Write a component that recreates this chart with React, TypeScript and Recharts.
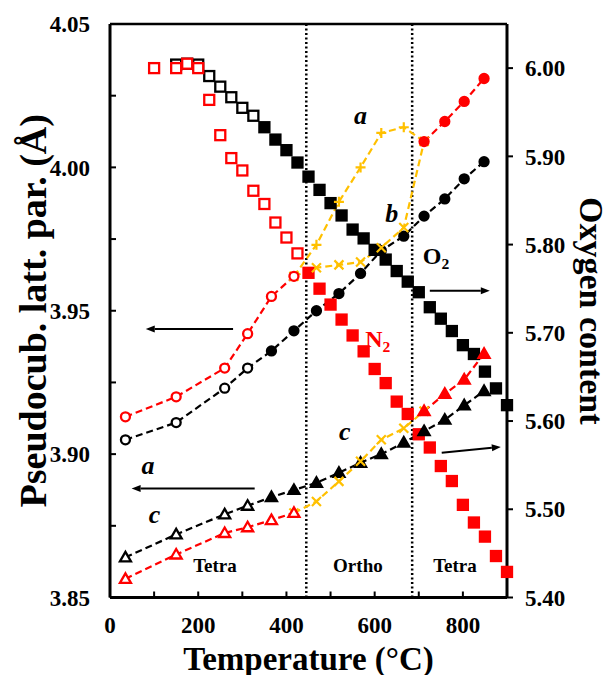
import React from "react";
import { ComposedChart, Line, XAxis, YAxis, ReferenceLine, ReferenceDot } from "recharts";

const FONT = "'Liberation Serif', 'Times New Roman', serif";
const RED = "#ff0000";
const GOLD = "#ffc000";

const xTicks = [0, 100, 200, 300, 400, 500, 600, 700, 800, 900];
const leftTicks = [3.85, 3.875, 3.9, 3.925, 3.95, 3.975, 4.0, 4.025, 4.05];
const rightTicks = [5.4, 5.5, 5.6, 5.7, 5.8, 5.9, 6.0];
const phaseBounds = [445, 685];

// oxygen content (right axis)
const o2SqTemps = [150, 175, 200, 225, 250, 275, 300, 325, 350, 375, 400, 425, 450, 475, 500, 525, 550, 575, 600, 625, 650, 675, 700, 725, 750, 775, 800, 825, 850, 875, 900];
const o2Content = [6.004, 6.005, 6.004, 5.991, 5.979, 5.967, 5.955, 5.946, 5.933, 5.919, 5.907, 5.893, 5.877, 5.862, 5.847, 5.833, 5.817, 5.807, 5.794, 5.783, 5.77, 5.758, 5.746, 5.729, 5.716, 5.702, 5.686, 5.676, 5.656, 5.637, 5.618];
const n2SqTemps = [100, 150, 175, 200, 225, 250, 275, 300, 325, 350, 375, 400, 425, 450, 475, 500, 525, 550, 575, 600, 625, 650, 675, 700, 725, 750, 775, 800, 825, 850, 875, 900];
const n2Content = [6.0, 6.0, 6.005, 6.0, 5.964, 5.924, 5.898, 5.884, 5.861, 5.846, 5.825, 5.808, 5.79, 5.768, 5.75, 5.732, 5.715, 5.697, 5.679, 5.659, 5.643, 5.622, 5.608, 5.585, 5.57, 5.549, 5.532, 5.505, 5.485, 5.469, 5.447, 5.429];

// lattice parameters (left axis)
const allTemps = [35, 150, 260, 312, 366, 417, 468, 519, 568, 615, 666, 712, 759, 803, 848];
const lowTemps = [35, 150, 260, 312, 366, 417];
const orthoTemps = [417, 468, 519, 568, 615, 666, 712];
const highTemps = [712, 759, 803, 848];

const o2A = [3.905, 3.911, 3.923, 3.93, 3.936, 3.943, 3.95, 3.956, 3.963, 3.971, 3.976, 3.983, 3.989, 3.996, 4.002];
const o2C = [3.864, 3.872, 3.879, 3.882, 3.885, 3.8875, 3.89, 3.8935, 3.897, 3.9, 3.904, 3.908, 3.912, 3.917, 3.922];
const n2ALow = [3.913, 3.92, 3.93, 3.942, 3.955, 3.962];
const n2AOrtho = [3.962, 3.973, 3.988, 4.0, 4.012, 4.014, 4.009];
const n2BOrtho = [3.962, 3.965, 3.966, 3.967, 3.972, 3.979, 4.009];
const n2AHigh = [4.009, 4.016, 4.023, 4.031];
const n2CLow = [3.8565, 3.865, 3.8725, 3.8745, 3.877, 3.8795];
const n2COrtho = [3.8795, 3.8835, 3.8905, 3.8975, 3.905, 3.909, 3.915];
const n2CHigh = [3.915, 3.921, 3.926, 3.935];

const pts = (ts: number[], vs: number[]) => ts.map((t, i) => ({ t, v: vs[i] }));

type Kind = "square" | "circle" | "triangle" | "plus" | "cross";

const marker = (kind: Kind, color: string, openCount = 0) => (p: any) => {
  const { cx, cy, index } = p;
  if (cx == null || cy == null) return <g key={index} />;
  const open = index < openCount;
  const fill = open ? "#fff" : color;
  const sw = 2.3;
  if (kind === "square")
    return <rect key={index} x={cx - 5} y={cy - 5} width={10} height={10} fill={fill} stroke={color} strokeWidth={sw} />;
  if (kind === "circle")
    return <circle key={index} cx={cx} cy={cy} r={4.5} fill={fill} stroke={color} strokeWidth={sw} />;
  if (kind === "triangle")
    return <polygon key={index} points={`${cx},${cy - 5.5} ${cx + 5.5},${cy + 4} ${cx - 5.5},${cy + 4}`} fill={fill} stroke={color} strokeWidth={sw} />;
  if (kind === "plus")
    return <path key={index} d={`M${cx - 5},${cy}H${cx + 5}M${cx},${cy - 5}V${cy + 5}`} stroke={color} strokeWidth={2.2} />;
  return <path key={index} d={`M${cx - 4.5},${cy - 4.5}L${cx + 4.5},${cy + 4.5}M${cx - 4.5},${cy + 4.5}L${cx + 4.5},${cy - 4.5}`} stroke={color} strokeWidth={2.2} />;
};

const Arrow = (p: any) => {
  const { x1, y1, x2, y2 } = p;
  const ang = Math.atan2(y2 - y1, x2 - x1);
  const len = 9;
  const w = 3.5;
  const bx = x2 - len * Math.cos(ang);
  const by = y2 - len * Math.sin(ang);
  const nx = -Math.sin(ang) * w;
  const ny = Math.cos(ang) * w;
  return (
    <g>
      <line x1={x1} y1={y1} x2={bx} y2={by} stroke="#000" strokeWidth={2} />
      <polygon points={`${x2},${y2} ${bx + nx},${by + ny} ${bx - nx},${by - ny}`} fill="#000" />
    </g>
  );
};

const txt = (label: string, opts: { size?: number; italic?: boolean; color?: string; sub?: string } = {}) => (p: any) => (
  <text
    x={p.cx}
    y={p.cy}
    textAnchor="middle"
    dominantBaseline="central"
    fontFamily={FONT}
    fontWeight="bold"
    fontStyle={opts.italic ? "italic" : "normal"}
    fontSize={opts.size ?? 26}
    fill={opts.color ?? "#000"}
  >
    {label}
    {opts.sub && (
      <tspan dy={7} fontSize={(opts.size ?? 26) * 0.65}>
        {opts.sub}
      </tspan>
    )}
  </text>
);

const LeftTitle = ({ viewBox }: any) => (
  <text
    transform={`translate(${viewBox.x + 33},${viewBox.y + viewBox.height / 2}) rotate(-90)`}
    textAnchor="middle"
    dominantBaseline="central"
    fontFamily={FONT}
    fontWeight="bold"
    fontSize={38}
  >
    Pseudocub. latt. par. (Å)
  </text>
);

const RightTitle = ({ viewBox }: any) => (
  <text
    transform={`translate(${viewBox.x + 84},${viewBox.y + viewBox.height / 2}) rotate(90)`}
    textAnchor="middle"
    dominantBaseline="central"
    fontFamily={FONT}
    fontWeight="bold"
    fontSize={34}
  >
    Oxygen content
  </text>
);

const BottomTitle = ({ viewBox }: any) => (
  <text
    x={viewBox.x + viewBox.width / 2}
    y={viewBox.y + 72}
    textAnchor="middle"
    fontFamily={FONT}
    fontWeight="bold"
    fontSize={33}
  >
    Temperature (°C)
  </text>
);

const tickStyle = { fill: "#000", fontSize: 23, fontWeight: "bold", fontFamily: FONT };
const dash = "7 4";

export default function App() {
  return (
    <div style={{ position: "absolute", left: 0, top: 0, width: 608, height: 675, background: "#fff" }}>
      <ComposedChart width={608} height={675} margin={{ top: 24, right: 0, bottom: 0, left: 0 }}>
        <XAxis
          type="number"
          dataKey="t"
          domain={[0, 900]}
          ticks={xTicks}
          interval={0}
          height={77.5}
          tickFormatter={(v: number) => (v % 200 === 0 && v < 900 ? String(v) : "")}
          axisLine={{ stroke: "#000", strokeWidth: 3 }}
          tickLine={{ stroke: "#000", strokeWidth: 2 }}
          tickSize={-6}
          tickMargin={25}
          tick={tickStyle}
          label={<BottomTitle />}
        />
        <YAxis
          yAxisId="L"
          orientation="left"
          type="number"
          domain={[3.85, 4.05]}
          ticks={leftTicks}
          interval={0}
          width={110}
          tickFormatter={(v: number, i: number) => (i % 2 === 0 ? v.toFixed(2) : "")}
          axisLine={{ stroke: "#000", strokeWidth: 3 }}
          tickLine={{ stroke: "#000", strokeWidth: 2 }}
          tickSize={-6}
          tickMargin={26}
          tick={tickStyle}
          label={<LeftTitle />}
        />
        <YAxis
          yAxisId="R"
          orientation="right"
          type="number"
          domain={[5.4, 6.05]}
          ticks={rightTicks}
          interval={0}
          width={101}
          tickFormatter={(v: number) => v.toFixed(2)}
          axisLine={{ stroke: "#000", strokeWidth: 3 }}
          tickLine={{ stroke: "#000", strokeWidth: 2 }}
          tickSize={6}
          tickMargin={12}
          tick={tickStyle}
          label={<RightTitle />}
        />

        <ReferenceLine yAxisId="L" y={4.05} stroke="#000" strokeWidth={2.5} />
        {phaseBounds.map((x) => (
          <ReferenceLine key={x} yAxisId="L" x={x} stroke="#000" strokeWidth={2.5} strokeDasharray="2 2.5" />
        ))}

        {/* oxygen content */}
        <Line yAxisId="R" data={pts(o2SqTemps, o2Content)} dataKey="v" stroke="none" dot={marker("square", "#000", 8)} isAnimationActive={false} legendType="none" />
        <Line yAxisId="R" data={pts(n2SqTemps, n2Content)} dataKey="v" stroke="none" dot={marker("square", RED, 13)} isAnimationActive={false} legendType="none" />

        {/* a and b */}
        <Line yAxisId="L" data={pts(allTemps, o2A)} dataKey="v" stroke="#000" strokeWidth={2.2} strokeDasharray={dash} dot={marker("circle", "#000", 4)} isAnimationActive={false} />
        <Line yAxisId="L" data={pts(orthoTemps, n2AOrtho)} dataKey="v" stroke={GOLD} strokeWidth={2.2} strokeDasharray={dash} dot={marker("plus", GOLD)} isAnimationActive={false} />
        <Line yAxisId="L" data={pts(orthoTemps, n2BOrtho)} dataKey="v" stroke={GOLD} strokeWidth={2.2} strokeDasharray={dash} dot={marker("cross", GOLD)} isAnimationActive={false} />
        <Line yAxisId="L" data={pts(lowTemps, n2ALow)} dataKey="v" stroke={RED} strokeWidth={2.2} strokeDasharray={dash} dot={marker("circle", RED, 6)} isAnimationActive={false} />
        <Line yAxisId="L" data={pts(highTemps, n2AHigh)} dataKey="v" stroke={RED} strokeWidth={2.2} strokeDasharray={dash} dot={marker("circle", RED)} isAnimationActive={false} />

        {/* c */}
        <Line yAxisId="L" data={pts(allTemps, o2C)} dataKey="v" stroke="#000" strokeWidth={2.2} strokeDasharray={dash} dot={marker("triangle", "#000", 4)} isAnimationActive={false} />
        <Line yAxisId="L" data={pts(orthoTemps, n2COrtho)} dataKey="v" stroke={GOLD} strokeWidth={2.2} strokeDasharray={dash} dot={marker("cross", GOLD)} isAnimationActive={false} />
        <Line yAxisId="L" data={pts(lowTemps, n2CLow)} dataKey="v" stroke={RED} strokeWidth={2.2} strokeDasharray={dash} dot={marker("triangle", RED, 6)} isAnimationActive={false} />
        <Line yAxisId="L" data={pts(highTemps, n2CHigh)} dataKey="v" stroke={RED} strokeWidth={2.2} strokeDasharray={dash} dot={marker("triangle", RED)} isAnimationActive={false} />

        {/* arrows */}
        <ReferenceLine yAxisId="L" segment={[{ x: 279, y: 3.9436 }, { x: 81, y: 3.9436 }]} shape={Arrow} />
        <ReferenceLine yAxisId="L" segment={[{ x: 328, y: 3.888 }, { x: 49, y: 3.888 }]} shape={Arrow} />
        <ReferenceLine yAxisId="L" segment={[{ x: 725, y: 3.957 }, { x: 861, y: 3.957 }]} shape={Arrow} />
        <ReferenceLine yAxisId="L" segment={[{ x: 752, y: 3.9005 }, { x: 886, y: 3.9025 }]} shape={Arrow} />

        {/* annotations */}
        <ReferenceDot yAxisId="L" x={568} y={4.018} r={0} shape={txt("a", { italic: true })} />
        <ReferenceDot yAxisId="L" x={86} y={3.896} r={0} shape={txt("a", { italic: true })} />
        <ReferenceDot yAxisId="L" x={639} y={3.984} r={0} shape={txt("b", { italic: true })} />
        <ReferenceDot yAxisId="L" x={101} y={3.879} r={0} shape={txt("c", { italic: true })} />
        <ReferenceDot yAxisId="L" x={532} y={3.908} r={0} shape={txt("c", { italic: true })} />
        <ReferenceDot yAxisId="L" x={739} y={3.969} r={0} shape={txt("O", { size: 24, sub: "2" })} />
        <ReferenceDot yAxisId="L" x={607} y={3.94} r={0} shape={txt("N", { size: 24, sub: "2", color: RED })} />
        <ReferenceDot yAxisId="L" x={238} y={3.861} r={0} shape={txt("Tetra", { size: 19 })} />
        <ReferenceDot yAxisId="L" x={562} y={3.861} r={0} shape={txt("Ortho", { size: 19 })} />
        <ReferenceDot yAxisId="L" x={782} y={3.861} r={0} shape={txt("Tetra", { size: 19 })} />
      </ComposedChart>
    </div>
  );
}
